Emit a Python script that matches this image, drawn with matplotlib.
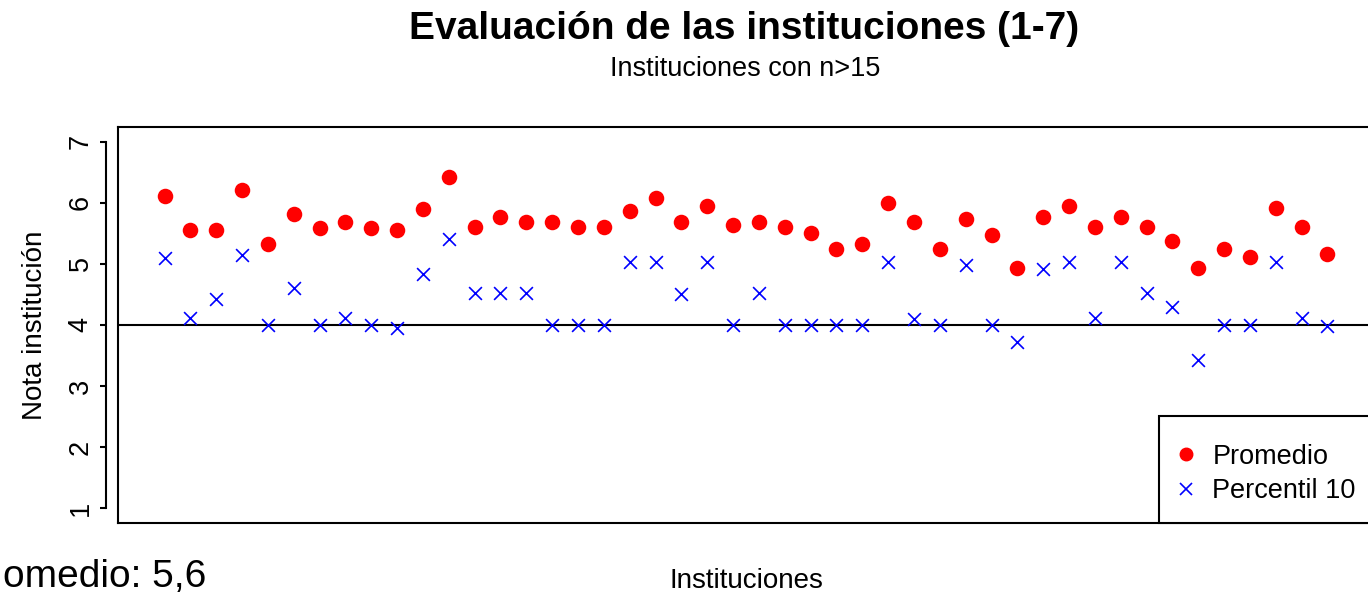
import matplotlib
matplotlib.use("Agg")
import matplotlib.pyplot as plt
from matplotlib.lines import Line2D
from matplotlib.patches import Rectangle

plt.rcParams['font.family'] = ['Liberation Sans', 'DejaVu Sans']

# Datos (46 instituciones)
promedio = [6.11, 5.55, 5.55, 6.21, 5.33, 5.81, 5.59, 5.68, 5.59, 5.55,
            5.90, 6.42, 5.60, 5.77, 5.68, 5.68, 5.60, 5.60, 5.86, 6.08,
            5.68, 5.95, 5.64, 5.68, 5.60, 5.51, 5.25, 5.33, 5.99, 5.68,
            5.25, 5.73, 5.47, 4.93, 5.77, 5.95, 5.60, 5.77, 5.60, 5.38,
            4.93, 5.25, 5.12, 5.91, 5.60, 5.16]
percentil10 = [5.09, 4.12, 4.43, 5.14, 4.00, 4.61, 4.00, 4.12, 4.00, 3.95,
               4.83, 5.40, 4.52, 4.52, 4.52, 4.00, 4.00, 4.00, 5.03, 5.03,
               4.50, 5.03, 4.00, 4.52, 4.00, 4.00, 4.00, 4.00, 5.03, 4.10,
               4.00, 4.98, 4.00, 3.72, 4.91, 5.03, 4.12, 5.03, 4.52, 4.30,
               3.42, 4.00, 4.00, 5.03, 4.12, 3.98]
instituciones = list(range(1, len(promedio) + 1))
y_ticks = [1, 2, 3, 4, 5, 6, 7]

W, H = 1368, 593
fig = plt.figure(figsize=(W / 100, H / 100), dpi=100)

def px(x, y):
    return x / W, 1 - y / H

# Ejes (el borde derecho queda fuera de la imagen, como en el original)
left, right, top, bottom = 118, 1374, 127, 523
ax = fig.add_axes([left / W, 1 - bottom / H, (right - left) / W, (bottom - top) / H])

n = len(promedio)
pad = (n - 1) * 0.04
ax.set_xlim(1 - pad, n + pad)
ax.set_ylim(1 - 0.24, 7 + 0.24)

ax.scatter(instituciones, promedio, s=125, color='#FF0000', marker='o',
           linewidths=0, zorder=3)
ax.scatter(instituciones, percentil10, s=85, color='#0000FF', marker='x',
           linewidths=1.2, zorder=3)
ax.axhline(4, color='black', linewidth=1.5, zorder=2)

# Caja y eje al estilo R
for s in ['top', 'right', 'bottom']:
    ax.spines[s].set_linewidth(1.5)
ax.plot([0, 0], [0, 1], transform=ax.transAxes, color='black',
        linewidth=1.5, clip_on=False, zorder=4)
ax.spines['left'].set_position(('outward', 8.6))
ax.spines['left'].set_bounds(1, 7)
ax.spines['left'].set_linewidth(1.5)
ax.set_xticks([])
ax.set_yticks(y_ticks)
ax.set_yticklabels([str(t) for t in y_ticks], rotation=90, va='center')
ax.tick_params(axis='y', length=4, width=1.5, labelsize=19.5, pad=5)

ax.set_ylabel('Nota institución', fontsize=20, labelpad=14)

# Leyenda (marco dibujado aparte, como legend() de R en bottomright)
x0, y0 = px(1159, 523)
x1, y1 = px(1376, 416)
fig.patches.append(Rectangle((x0, y0), x1 - x0, y1 - y0,
                             transform=fig.transFigure, facecolor='white',
                             edgecolor='black', linewidth=1.5, zorder=5))
handles = [
    Line2D([], [], linestyle='none', marker='o', color='#FF0000', markersize=9),
    Line2D([], [], linestyle='none', marker='x', color='#0000FF', markersize=9,
           markeredgewidth=1.2),
]
leg = fig.legend(handles, ['Promedio', 'Percentil 10'], loc='center left',
                 bbox_to_anchor=px(1175, 474), borderaxespad=0, borderpad=0,
                 frameon=False, fontsize=19.5, handlelength=0.83,
                 handletextpad=0.55, labelspacing=0.33)
leg.set_zorder(6)

fig.text(*px(744, 29), 'Evaluación de las instituciones (1-7)', fontsize=28,
         fontweight='bold', ha='center', va='center')
fig.text(*px(745, 69), 'Instituciones con n>15', fontsize=19.5,
         ha='center', va='center')
fig.text(*px(746, 581), 'Instituciones', fontsize=20, ha='center', va='center')
fig.text(*px(206, 587), 'omedio: 5,6', fontsize=28, ha='right',
         va='baseline')

fig.savefig('out.png', dpi=100)
